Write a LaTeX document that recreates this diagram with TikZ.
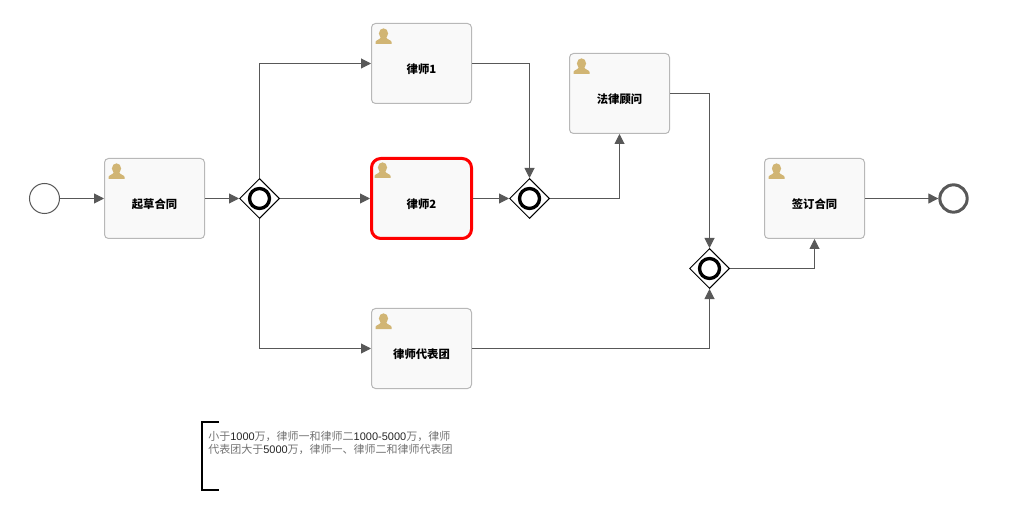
\documentclass[tikz,border=0pt]{standalone}
\usepackage{fontspec}
\setmainfont{Liberation Sans}
\newfontfamily\cjk{Noto Sans CJK SC}
\usepackage{xcolor}
\usepackage{tikz}
\usetikzlibrary{shapes.geometric, arrows.meta, calc}
\definecolor{linha}{HTML}{585858}
\definecolor{caixa}{HTML}{F9F9F9}
\definecolor{borda}{HTML}{B8B8B8}
\definecolor{icone}{HTML}{D1B574}
\newcommand{\gy}[1]{{\cjk\color{black!55}#1}}
\tikzset{
    tarefa/.style  = {draw=borda, fill=caixa, rounded corners=3pt, line width=0.75pt,
                      minimum width=75pt, minimum height=60pt, inner sep=0pt},
    ativa/.style   = {tarefa, draw=red, line width=2.25pt, rounded corners=7pt,
                      minimum width=75pt, minimum height=60pt},
    titulo/.style  = {font=\cjk\bfseries\fontsize{8.5pt}{10pt}\selectfont, text=black},
    porta/.style   = {draw=black, fill=white, diamond, aspect=1, line width=0.75pt,
                      minimum width=30pt, minimum height=30pt, inner sep=0pt},
    anel/.style    = {draw=black, circle, line width=2.5pt, minimum size=15pt, inner sep=0pt},
    inicio/.style  = {draw=linha, fill=white, circle, line width=0.75pt, minimum size=22.5pt, inner sep=0pt},
    fim/.style     = {draw=linha, fill=white, circle, line width=2.25pt, minimum size=20.5pt, inner sep=0pt},
    lig/.style     = {-{Triangle[length=7.5pt, width=7.5pt]}, line width=0.75pt, linha},
    usuario/.pic   = {
        \fill[icone] (0,-5) ellipse (4.6 and 5.2);
        \fill[icone] (-8,5.5) -- (-8,3.5) .. controls (-8,1.5) and (-3.5,1.5) .. (-2.5,-1.5)
            -- (2.5,-1.5) .. controls (3.5,1.5) and (8,1.5) .. (8,3.5) -- (8,5.5) -- cycle;
    },
}
\begin{document}
\begin{tikzpicture}[x=0.75pt, y=-0.75pt]
    \useasboundingbox (0,0) rectangle (1010,520);
    % eventos
    \node[inicio] (start) at (44.5,198.5) {};
    \node[fim] (end) at (953.5,198.5) {};
    % tarefas
    \node[tarefa, label={[titulo, yshift=-4.5pt]center:起草合同}] (draft) at (154.5,198.5) {};
    \node[tarefa, label={[titulo, yshift=-4.5pt]center:律师1}] (lawyerA) at (421.5,63.5) {};
    \node[ativa, label={[titulo, yshift=-4.5pt]center:律师2}] (lawyerB) at (421.5,198.5) {};
    \node[tarefa, label={[titulo, yshift=-4.5pt]center:律师代表团}] (team) at (421.5,348.5) {};
    \node[tarefa, label={[titulo, yshift=-4.5pt]center:法律顾问}] (counsel) at (619.5,93.5) {};
    \node[tarefa, label={[titulo, yshift=-4.5pt]center:签订合同}] (sign) at (814.5,198.5) {};
    % icones
    \foreach \t in {draft, lawyerA, lawyerB, team, counsel, sign}
        \pic at ([shift={(12.5,15.5)}]\t.north west) {usuario};
    % gateways
    \node[porta] (gateA) at (259.5,198.5) {};
    \node[porta] (gateB) at (529.5,198.5) {};
    \node[porta] (gateC) at (709.5,268.5) {};
    \foreach \g in {gateA, gateB, gateC}
        \node[anel] (ring\g) at (\g) {};
    % ligacoes
    \draw[lig] (start) -- (draft);
    \draw[lig] (draft) -- (gateA);
    \draw[lig] (gateA) |- (lawyerA);
    \draw[lig] (gateA) -- (lawyerB);
    \draw[lig] (gateA) |- (team);
    \draw[lig] (lawyerA) -| (gateB);
    \draw[lig] (lawyerB) -- (gateB);
    \draw[lig] (gateB) -| (counsel);
    \draw[lig] (counsel) -| (gateC);
    \draw[lig] (team) -| (gateC);
    \draw[lig] (gateC) -| (sign);
    \draw[lig] (sign) -- (end);
    % anotacao
    \coordinate (noteA) at (219,422);
    \coordinate (noteB) at (219,490);
    \draw[black, line width=1.5pt] (noteA) -- (202,422) -- (202,490) -- (noteB);
    \node[anchor=north west, inner sep=0pt, align=left, font=\fontsize{8.25pt}{9.75pt}\selectfont, text=black!85] (note) at (208,431)
        {\gy{小于}1000\gy{万，律师一和律师二}1000-5000\gy{万，律师}\\\gy{代表团大于}5000\gy{万，律师一、律师二和律师代表团}};
\end{tikzpicture}
\end{document}
